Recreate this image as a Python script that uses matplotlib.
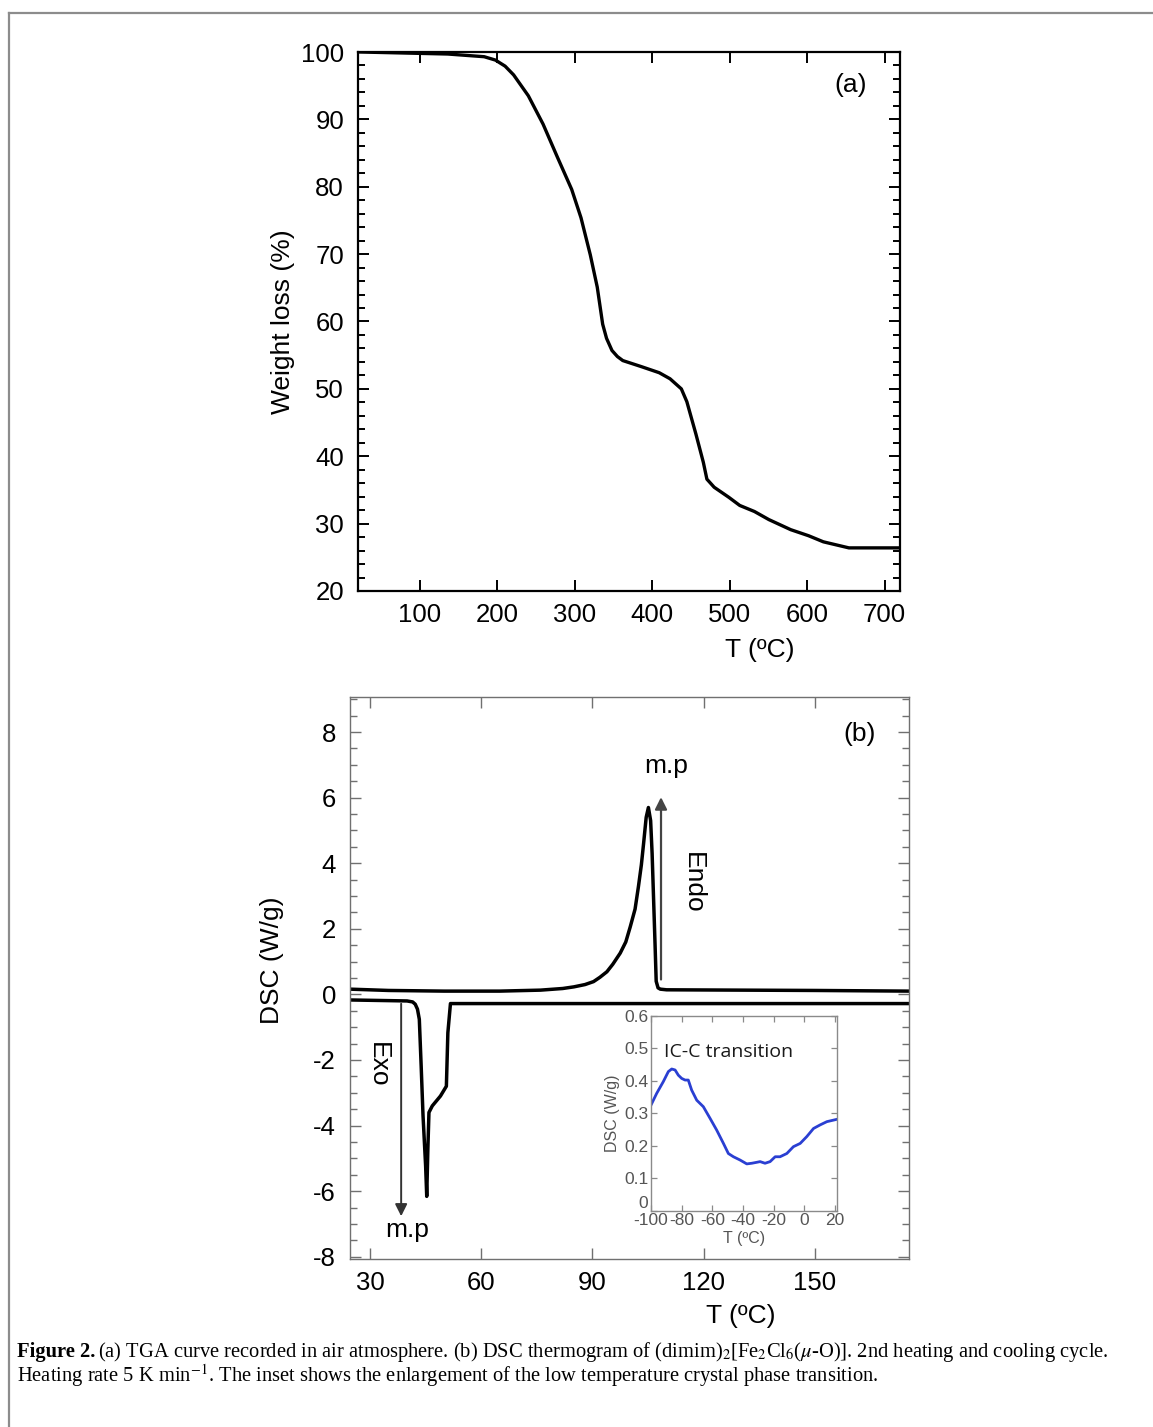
import numpy as np
import matplotlib.pyplot as plt
from matplotlib.lines import Line2D
from matplotlib.ticker import MultipleLocator

plt.rcParams['font.family'] = ['Liberation Sans', 'DejaVu Sans']
plt.rcParams['mathtext.fontset'] = 'stix'
plt.rcParams['axes.unicode_minus'] = False

# (a) TGA curve
tga_T = [23, 136, 183, 197.5, 210, 221, 240, 259, 277.5, 296, 308, 320, 329, 336, 341, 348,
         355, 362, 386, 409, 423, 437.6, 444.7, 456.4, 466, 470.6, 480, 499, 513, 532, 550.6,
         578.9, 602, 621, 654, 720]
tga_W = [100, 99.7, 99.3, 98.8, 97.9, 96.6, 93.5, 89.3, 84.4, 79.6, 75.4, 69.9, 65.1, 59.6, 57.5, 55.7,
         54.8, 54.2, 53.3, 52.4, 51.5, 50.0, 48.1, 43.3, 39.1, 36.6, 35.4, 33.9, 32.7, 31.8, 30.6,
         29.1, 28.2, 27.3, 26.4, 26.4]

# (b) DSC heating and cooling
heat_T = [24.6, 35, 50, 65, 76, 82, 85, 88, 90.3, 92, 93.9, 95.5, 97.5, 99, 100.2, 101.5,
          102.4, 103.2, 103.8, 104.5, 105.1, 105.7, 106.1, 106.5, 106.9, 107.2, 107.7, 108.3,
          110, 130, 150, 175.4]
heat_D = [0.16, 0.12, 0.1, 0.1, 0.13, 0.18, 0.23, 0.3, 0.39, 0.52, 0.69, 0.92, 1.26, 1.6, 2.06, 2.6,
          3.28, 3.95, 4.6, 5.4, 5.7, 5.3, 4.3, 2.9, 1.5, 0.4, 0.2, 0.16,
          0.14, 0.13, 0.12, 0.1]
cool_T = [24.6, 35, 40, 41.5, 42.2, 42.8, 43.3, 43.8, 44.3, 45.0, 45.3, 45.6, 45.9, 46.8,
          49, 50.6, 51.0, 51.7, 60, 100, 140, 175.4]
cool_D = [-0.17, -0.19, -0.2, -0.23, -0.3, -0.45, -0.76, -2.19, -3.7, -5.23, -6.16, -4.73, -3.6, -3.4,
          -3.1, -2.8, -1.17, -0.28, -0.28, -0.28, -0.28, -0.28]

# inset: IC-C transition
ins_T = [-100, -96.3, -92, -88.7, -86.5, -84.3, -82.2, -80, -77.8, -75.7, -73.5, -70.2, -65.9,
         -61.5, -57.2, -52.8, -49.6, -46.3, -42, -37.6, -34.3, -31, -28.9, -25.7, -22.4, -19.1,
         -15.9, -11.5, -7.2, -2.8, 1.5, 5.9, 10.2, 14.6, 21]
ins_D = [0.325, 0.361, 0.397, 0.428, 0.436, 0.433, 0.417, 0.407, 0.402, 0.402, 0.371, 0.34, 0.32,
         0.284, 0.248, 0.207, 0.176, 0.166, 0.156, 0.144, 0.146, 0.149, 0.151, 0.146, 0.151, 0.166,
         0.166, 0.176, 0.197, 0.207, 0.228, 0.253, 0.264, 0.274, 0.281]

W, H = 1153, 1427
fig = plt.figure(figsize=(W / 100, H / 100), dpi=100)

# page frame (left and top)
fig.add_artist(Line2D([8.5 / W, 8.5 / W], [0, 1 - 12.5 / H], color='#8c8c8c', lw=1.6))
fig.add_artist(Line2D([8.5 / W, 1], [1 - 12.5 / H, 1 - 12.5 / H], color='#8c8c8c', lw=1.6))

# ---- panel (a)
ax1 = fig.add_axes([358 / W, 1 - 591 / H, 542 / W, 539 / H])
ax1.plot(tga_T, tga_W, color='black', lw=2.4, solid_joinstyle='round')
ax1.set_xlim(20, 720)
ax1.set_ylim(20, 100)
ax1.yaxis.set_major_locator(MultipleLocator(10))
ax1.yaxis.set_minor_locator(MultipleLocator(2))
ax1.set_xticks([100, 200, 300, 400, 500, 600, 700])
for s in ax1.spines.values():
    s.set_linewidth(1.6)
ax1.tick_params(which='both', direction='in', top=True, right=True, width=1.4, labelsize=18.5)
ax1.tick_params(which='major', length=8)
ax1.tick_params(which='minor', length=5)
ax1.tick_params(axis='y', pad=10)
ax1.tick_params(axis='x', pad=9)
ax1.text(656, 95.1, '(a)', fontsize=19, ha='center', va='center')
fig.text(283 / W, 1 - 322 / H, 'Weight loss (%)', rotation=90, fontsize=19, ha='center', va='center')
fig.text(760 / W, 1 - 650 / H, 'T (ºC)', fontsize=19, ha='center', va='center')

# ---- panel (b)
ax2 = fig.add_axes([350 / W, 1 - 1259 / H, 559 / W, 562 / H])
ax2.plot(heat_T, heat_D, color='black', lw=2.5, solid_joinstyle='round')
ax2.plot(cool_T, cool_D, color='black', lw=2.5, solid_joinstyle='round')
ax2.set_xlim(24.6, 175.4)
ax2.set_ylim(-8.07, 9.07)
ax2.set_xticks([30, 60, 90, 120, 150])
ax2.yaxis.set_major_locator(MultipleLocator(2))
ax2.yaxis.set_minor_locator(MultipleLocator(0.5))
for s in ax2.spines.values():
    s.set_linewidth(1.0)
    s.set_color('#707070')
ax2.tick_params(which='both', direction='in', top=True, right=True, width=1.0,
                color='#707070', labelsize=18.5)
ax2.tick_params(which='major', length=8)
ax2.tick_params(which='minor', length=5)
ax2.tick_params(axis='y', pad=10)
ax2.tick_params(axis='x', pad=9)

ax2.annotate('', xy=(108.5, 6.1), xytext=(108.5, 0.37),
             arrowprops=dict(arrowstyle='-|>', color='#444444', lw=1.6, mutation_scale=18))
ax2.annotate('', xy=(38.4, -6.85), xytext=(38.4, -0.2),
             arrowprops=dict(arrowstyle='-|>', color='#333333', lw=1.4, mutation_scale=18))
ax2.text(110, 6.96, 'm.p', fontsize=19, ha='center', va='center')
ax2.text(117, 3.4, 'Endo', fontsize=19, rotation=270, ha='center', va='center')
ax2.text(32.2, -2.14, 'Exo', fontsize=19, rotation=270, ha='center', va='center')
ax2.text(40, -7.2, 'm.p', fontsize=19, ha='center', va='center')
ax2.text(162, 7.94, '(b)', fontsize=19, ha='center', va='center')
fig.text(272 / W, 1 - 960 / H, 'DSC (W/g)', rotation=90, fontsize=19, ha='center', va='center')
fig.text(741 / W, 1 - 1316 / H, 'T (ºC)', fontsize=19, ha='center', va='center')

# ---- inset
ax3 = fig.add_axes([651 / W, 1 - 1210.7 / H, 185.7 / W, 195 / H])
ax3.plot(ins_T, ins_D, color='#2a3fd2', lw=2.0)
ax3.set_xlim(-100, 21)
ax3.set_ylim(0, 0.6)
ax3.set_xticks([-100, -80, -60, -40, -20, 0, 20])
ax3.set_yticks([0, 0.1, 0.2, 0.3, 0.4, 0.5, 0.6])
ax3.set_yticklabels(['0', '0.1', '0.2', '0.3', '0.4', '0.5', '0.6'])
for s in ax3.spines.values():
    s.set_linewidth(1.0)
    s.set_color('#8a8a8a')
ax3.tick_params(direction='in', top=True, right=True, length=4, width=0.9, color='#8a8a8a',
                labelsize=12.5, labelcolor='#555555', pad=2)
ax3.get_yticklabels()[0].set_va('bottom')
ax3.text(-49.6, 0.489, 'IC-C transition', fontsize=14, ha='center', va='center',
         color='#1a1a1a', family='Open Sans')
ax3.set_ylabel('DSC (W/g)', fontsize=11.5, color='#555555', labelpad=3)
ax3.set_xlabel('T (ºC)', fontsize=11.5, color='#555555', labelpad=2)

# ---- caption
cap_x = 17 / W
cap_fs = 14.8
fig.text(cap_x, 1 - 1357 / H, 'Figure 2.', fontsize=cap_fs, family='Liberation Serif',
         weight='bold', va='baseline')
fig.text(cap_x + 81 / W, 1 - 1357 / H,
         r'(a) TGA curve recorded in air atmosphere. (b) DSC thermogram of '
         r'(dimim)$_2$[Fe$_2$Cl$_6$($\mu$-O)]. 2nd heating and cooling cycle.',
         fontsize=cap_fs, family='Liberation Serif', va='baseline')
fig.text(cap_x, 1 - 1382 / H,
         r'Heating rate 5 K min$^{-1}$. The inset shows the enlargement of the low temperature '
         r'crystal phase transition.',
         fontsize=cap_fs, family='Liberation Serif', va='baseline')

fig.savefig('out.png', dpi=100)
